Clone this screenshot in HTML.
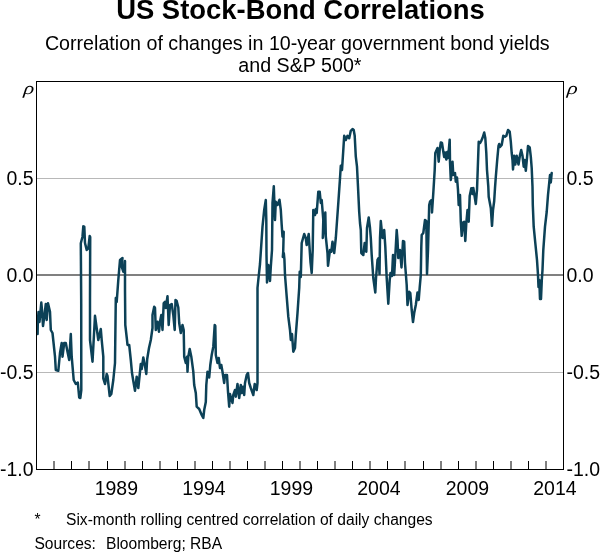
<!DOCTYPE html>
<html><head><meta charset="utf-8"><title>US Stock-Bond Correlations</title>
<style>
html,body{margin:0;padding:0;background:#fff;}
body{width:600px;height:552px;overflow:hidden;font-family:"Liberation Sans",sans-serif;}
svg{display:block;will-change:transform;}
text{font-family:"Liberation Sans",sans-serif;fill:#000;}
.ax text{font-size:19.2px;}
.rho{font-family:"Liberation Serif",serif;font-style:italic;font-size:17.6px;}
</style></head><body>
<svg width="600" height="552" viewBox="0 0 600 552">
<rect width="600" height="552" fill="#fff"/>
<text x="300.5" y="19" text-anchor="middle" font-size="27.43" font-weight="bold">US Stock-Bond Correlations</text>
<text x="297.3" y="50" text-anchor="middle" font-size="19.66">Correlation of changes in 10-year government bond yields</text>
<text x="299.9" y="71.6" text-anchor="middle" font-size="19.66">and S&amp;P 500*</text>
<g stroke="#b8b8b8" stroke-width="1" shape-rendering="crispEdges">
<line x1="36.5" y1="178.5" x2="563.5" y2="178.5"/>
<line x1="36.5" y1="372.5" x2="563.5" y2="372.5"/>
</g>
<rect x="36.5" y="274" width="527.0" height="2" fill="#808080"/>
<path d="M37.6,334.0 L37.8,322.0 L38.5,312.0 L39.5,322.0 L41.3,302.5 L42.0,310.0 L43.0,326.0 L44.5,315.0 L45.8,304.0 L46.7,320.0 L48.0,303.3 L50.0,311.7 L50.8,330.0 L52.5,333.0 L55.0,356.7 L55.8,370.0 L58.3,370.8 L60.0,353.0 L61.7,343.0 L62.5,356.7 L64.2,343.0 L65.8,343.0 L67.5,351.7 L69.2,360.0 L70.8,334.0 L71.7,356.7 L73.7,380.0 L75.8,384.0 L77.8,382.5 L79.2,397.5 L80.3,398.0 L81.3,390.0 L81.2,300.0 L80.8,243.3 L82.5,236.7 L83.3,226.3 L84.3,226.7 L85.0,243.0 L86.7,250.0 L88.3,248.3 L89.7,236.0 L90.2,237.0 L90.0,300.0 L90.0,340.0 L92.5,361.7 L95.0,315.8 L98.3,340.0 L100.8,329.0 L101.7,340.0 L103.3,356.7 L103.3,378.3 L105.0,384.0 L106.7,374.0 L107.5,376.0 L109.7,396.0 L111.3,394.0 L113.3,380.0 L115.0,363.0 L115.8,298.0 L116.7,302.0 L118.3,280.0 L120.0,260.0 L122.5,258.0 L121.7,266.7 L123.3,271.7 L125.0,261.0 L125.0,290.0 L125.3,325.0 L127.0,340.0 L127.5,345.0 L129.2,345.0 L130.8,360.0 L132.0,373.0 L133.3,381.0 L135.0,390.8 L136.7,376.7 L138.3,388.0 L140.8,364.0 L141.7,369.0 L143.3,357.5 L145.0,366.0 L146.3,374.0 L147.2,359.0 L149.0,348.0 L150.8,340.0 L152.5,328.0 L152.5,315.0 L154.2,306.7 L155.0,308.0 L155.8,330.0 L157.5,321.7 L159.0,331.7 L160.0,321.7 L161.3,315.0 L162.5,330.0 L163.7,303.3 L165.0,301.7 L165.8,308.0 L167.5,296.3 L168.7,325.0 L170.0,305.0 L171.7,304.0 L173.3,315.0 L174.7,330.0 L175.5,300.0 L176.7,301.0 L178.3,307.5 L179.2,323.0 L180.8,333.0 L182.5,325.0 L183.7,330.0 L184.2,356.7 L185.8,363.0 L187.0,356.7 L187.5,371.7 L188.3,356.7 L189.7,349.0 L191.3,356.7 L193.3,371.7 L194.2,385.0 L195.8,393.0 L196.7,406.7 L199.2,409.0 L201.7,415.0 L203.3,418.0 L204.2,410.0 L205.8,402.0 L206.3,385.0 L207.5,371.7 L209.2,377.5 L210.3,365.0 L211.7,355.0 L213.3,346.7 L214.7,325.0 L215.3,326.0 L215.8,355.0 L217.5,363.0 L218.7,358.0 L220.0,368.0 L221.3,365.0 L222.5,371.7 L224.2,383.0 L225.0,375.0 L227.0,375.0 L228.0,391.7 L229.2,406.7 L230.0,394.0 L232.5,403.0 L233.3,395.0 L235.0,390.0 L235.8,396.7 L237.5,384.0 L239.2,398.0 L240.8,385.0 L241.7,393.0 L243.0,386.7 L244.2,395.0 L245.0,383.0 L246.7,375.0 L248.0,373.0 L249.2,383.0 L250.8,388.0 L253.3,395.0 L254.7,384.0 L256.7,390.0 L257.5,383.0 L257.5,288.0 L258.3,280.0 L260.0,264.0 L262.5,226.7 L264.2,210.0 L265.8,200.0 L266.3,220.0 L266.5,255.0 L267.0,282.5 L268.3,265.0 L270.0,281.0 L270.8,266.7 L272.0,250.0 L272.5,203.0 L273.8,186.3 L275.0,220.0 L275.8,201.7 L277.5,205.0 L279.5,199.7 L280.8,210.0 L281.7,225.0 L282.5,236.7 L283.7,231.7 L283.2,252.0 L282.8,257.0 L283.8,253.0 L284.4,259.0 L285.0,275.0 L286.7,296.7 L288.3,316.7 L290.0,330.0 L290.8,340.0 L292.0,334.0 L293.3,351.7 L295.0,348.0 L295.8,335.0 L297.5,313.0 L299.2,288.0 L299.7,271.7 L300.8,277.0 L301.7,243.0 L304.2,234.0 L305.8,238.3 L306.7,245.0 L308.7,234.0 L309.7,250.0 L310.5,262.0 L311.7,273.0 L312.7,250.0 L313.3,210.0 L315.0,215.0 L315.8,209.0 L316.7,213.0 L318.3,191.7 L319.7,191.7 L320.8,203.0 L321.7,200.0 L323.3,220.0 L322.8,238.0 L325.3,212.5 L325.8,236.7 L327.5,253.0 L328.0,265.8 L330.0,250.0 L331.3,251.7 L332.5,241.7 L334.2,253.0 L335.8,238.0 L338.3,203.0 L340.0,178.3 L340.8,165.8 L342.0,170.0 L343.3,150.0 L344.2,135.8 L345.8,140.0 L347.5,135.8 L349.2,138.3 L350.8,130.8 L352.5,129.0 L353.7,130.0 L354.7,135.8 L355.8,156.7 L357.0,166.7 L358.0,186.7 L359.2,212.0 L360.0,223.0 L360.8,230.0 L361.3,253.0 L363.3,255.0 L364.7,243.0 L366.3,251.7 L367.0,228.0 L368.7,217.5 L370.0,228.0 L370.8,238.0 L371.7,255.0 L373.3,278.0 L375.3,292.5 L376.0,278.0 L377.5,260.0 L378.7,258.0 L379.5,274.0 L380.0,238.0 L380.8,221.0 L382.5,238.0 L384.2,230.0 L385.3,246.7 L386.7,278.0 L388.3,303.7 L389.7,280.0 L390.5,273.0 L392.0,276.0 L393.0,255.0 L394.2,275.0 L395.8,246.7 L396.7,230.0 L397.5,240.0 L398.3,258.0 L400.0,250.0 L401.5,267.5 L403.0,241.0 L404.2,241.7 L405.0,263.0 L406.7,285.0 L407.5,305.0 L409.2,291.7 L410.3,293.0 L411.7,310.0 L413.0,322.0 L414.2,313.0 L415.8,305.0 L417.5,292.5 L418.7,300.0 L419.7,287.5 L420.8,275.0 L421.3,246.7 L421.7,235.0 L423.3,233.0 L425.0,220.0 L426.3,221.0 L427.0,274.0 L428.0,250.0 L429.2,205.0 L430.0,201.7 L431.7,200.0 L432.0,212.5 L433.3,193.0 L434.7,170.0 L435.3,153.0 L437.5,148.0 L438.7,161.7 L439.7,150.0 L440.8,142.5 L442.0,143.0 L443.3,151.7 L444.2,157.0 L445.0,152.5 L446.3,159.5 L447.2,152.0 L448.0,158.0 L448.8,150.0 L449.7,139.7 L450.0,161.7 L450.8,180.0 L452.5,161.7 L453.3,175.0 L455.0,173.0 L455.8,181.7 L457.0,177.5 L458.0,190.0 L458.7,205.0 L460.0,195.0 L460.8,221.7 L461.7,235.8 L463.0,222.5 L464.2,221.7 L465.3,241.0 L466.3,223.0 L467.5,210.0 L468.7,221.7 L469.7,196.0 L471.3,188.3 L472.5,194.0 L473.3,188.0 L474.7,196.7 L475.8,204.0 L477.0,190.0 L478.0,161.7 L478.7,141.7 L480.0,143.0 L481.3,140.8 L482.5,138.0 L484.2,132.5 L485.3,138.0 L486.3,153.0 L487.0,170.0 L488.3,186.7 L488.7,196.7 L490.8,208.0 L492.0,225.8 L493.0,210.0 L494.2,201.0 L495.0,188.0 L495.8,177.0 L497.2,160.0 L498.5,146.0 L499.2,144.0 L500.0,147.0 L501.7,145.0 L503.3,135.8 L505.0,136.7 L506.3,135.8 L508.0,130.0 L509.7,131.7 L510.8,141.7 L511.7,153.0 L512.5,160.0 L513.0,169.5 L514.2,155.8 L515.3,164.5 L516.7,155.8 L518.5,164.5 L520.0,155.0 L521.2,150.0 L522.5,155.8 L523.7,166.7 L524.7,160.0 L525.8,170.8 L527.0,158.0 L528.0,146.0 L529.7,147.5 L530.8,156.7 L531.7,168.0 L532.5,186.7 L532.8,205.0 L533.7,226.7 L535.3,243.0 L537.0,260.0 L538.0,275.0 L538.5,287.0 L539.3,280.0 L540.0,299.0 L541.0,299.0 L541.8,280.0 L542.5,270.0 L543.3,250.0 L545.0,226.7 L546.7,212.0 L548.0,195.0 L549.2,183.0 L550.0,175.0 L550.8,182.5 L551.7,173.0" fill="none" stroke="#0c4157" stroke-width="2.5" stroke-linejoin="round" stroke-linecap="round"/>
<g stroke="#000" stroke-width="1"><line x1="54" y1="461" x2="54" y2="469.5"/><line x1="71.5" y1="461" x2="71.5" y2="469.5"/><line x1="89" y1="461" x2="89" y2="469.5"/><line x1="107.5" y1="461" x2="107.5" y2="469.5"/><line x1="125" y1="461" x2="125" y2="469.5"/><line x1="142.5" y1="461" x2="142.5" y2="469.5"/><line x1="160" y1="461" x2="160" y2="469.5"/><line x1="177.5" y1="461" x2="177.5" y2="469.5"/><line x1="195" y1="461" x2="195" y2="469.5"/><line x1="212.5" y1="461" x2="212.5" y2="469.5"/><line x1="230" y1="461" x2="230" y2="469.5"/><line x1="247.5" y1="461" x2="247.5" y2="469.5"/><line x1="265" y1="461" x2="265" y2="469.5"/><line x1="282.5" y1="461" x2="282.5" y2="469.5"/><line x1="300" y1="461" x2="300" y2="469.5"/><line x1="317.5" y1="461" x2="317.5" y2="469.5"/><line x1="335" y1="461" x2="335" y2="469.5"/><line x1="352.5" y1="461" x2="352.5" y2="469.5"/><line x1="370" y1="461" x2="370" y2="469.5"/><line x1="387.5" y1="461" x2="387.5" y2="469.5"/><line x1="405" y1="461" x2="405" y2="469.5"/><line x1="423.5" y1="461" x2="423.5" y2="469.5"/><line x1="441" y1="461" x2="441" y2="469.5"/><line x1="458.5" y1="461" x2="458.5" y2="469.5"/><line x1="476" y1="461" x2="476" y2="469.5"/><line x1="493.5" y1="461" x2="493.5" y2="469.5"/><line x1="511" y1="461" x2="511" y2="469.5"/><line x1="528.5" y1="461" x2="528.5" y2="469.5"/><line x1="546" y1="461" x2="546" y2="469.5"/></g>
<rect x="36.5" y="81.5" width="527.0" height="388.0" fill="none" stroke="#000" stroke-width="1"/>
<g class="ax">
<text transform="translate(33.5,184.7) scale(1.015,1.075)" text-anchor="end">0.5</text>
<text transform="translate(33.5,281.7) scale(1.015,1.075)" text-anchor="end">0.0</text>
<text transform="translate(33.5,378.7) scale(1.015,1.075)" text-anchor="end">-0.5</text>
<text transform="translate(33.5,475.7) scale(1.015,1.075)" text-anchor="end">-1.0</text>
<text transform="translate(566.5,184.7) scale(1.015,1.075)">0.5</text>
<text transform="translate(566.5,281.7) scale(1.015,1.075)">0.0</text>
<text transform="translate(566.5,378.7) scale(1.015,1.075)">-0.5</text>
<text transform="translate(566.5,475.7) scale(1.015,1.075)">-1.0</text>
<text transform="translate(116.3,494.9) scale(1.015,1.075)" text-anchor="middle">1989</text><text transform="translate(203.9,494.9) scale(1.015,1.075)" text-anchor="middle">1994</text><text transform="translate(291.4,494.9) scale(1.015,1.075)" text-anchor="middle">1999</text><text transform="translate(378.9,494.9) scale(1.015,1.075)" text-anchor="middle">2004</text><text transform="translate(467.4,494.9) scale(1.015,1.075)" text-anchor="middle">2009</text><text transform="translate(554.9,494.9) scale(1.015,1.075)" text-anchor="middle">2014</text>
</g>
<text class="rho" transform="translate(23.2,93.7) skewX(-6) scale(1.24,1)">ρ</text>
<text class="rho" transform="translate(566.8,93.7) skewX(-6) scale(1.24,1)">ρ</text>
<text x="34.5" y="525" font-size="15.6">*</text>
<text x="66" y="525" font-size="15.6">Six-month rolling centred correlation of daily changes</text>
<text x="34.4" y="549.4" font-size="15.6">Sources:</text>
<text x="106" y="549.4" font-size="15.6">Bloomberg; RBA</text>
</svg>
</body></html>
